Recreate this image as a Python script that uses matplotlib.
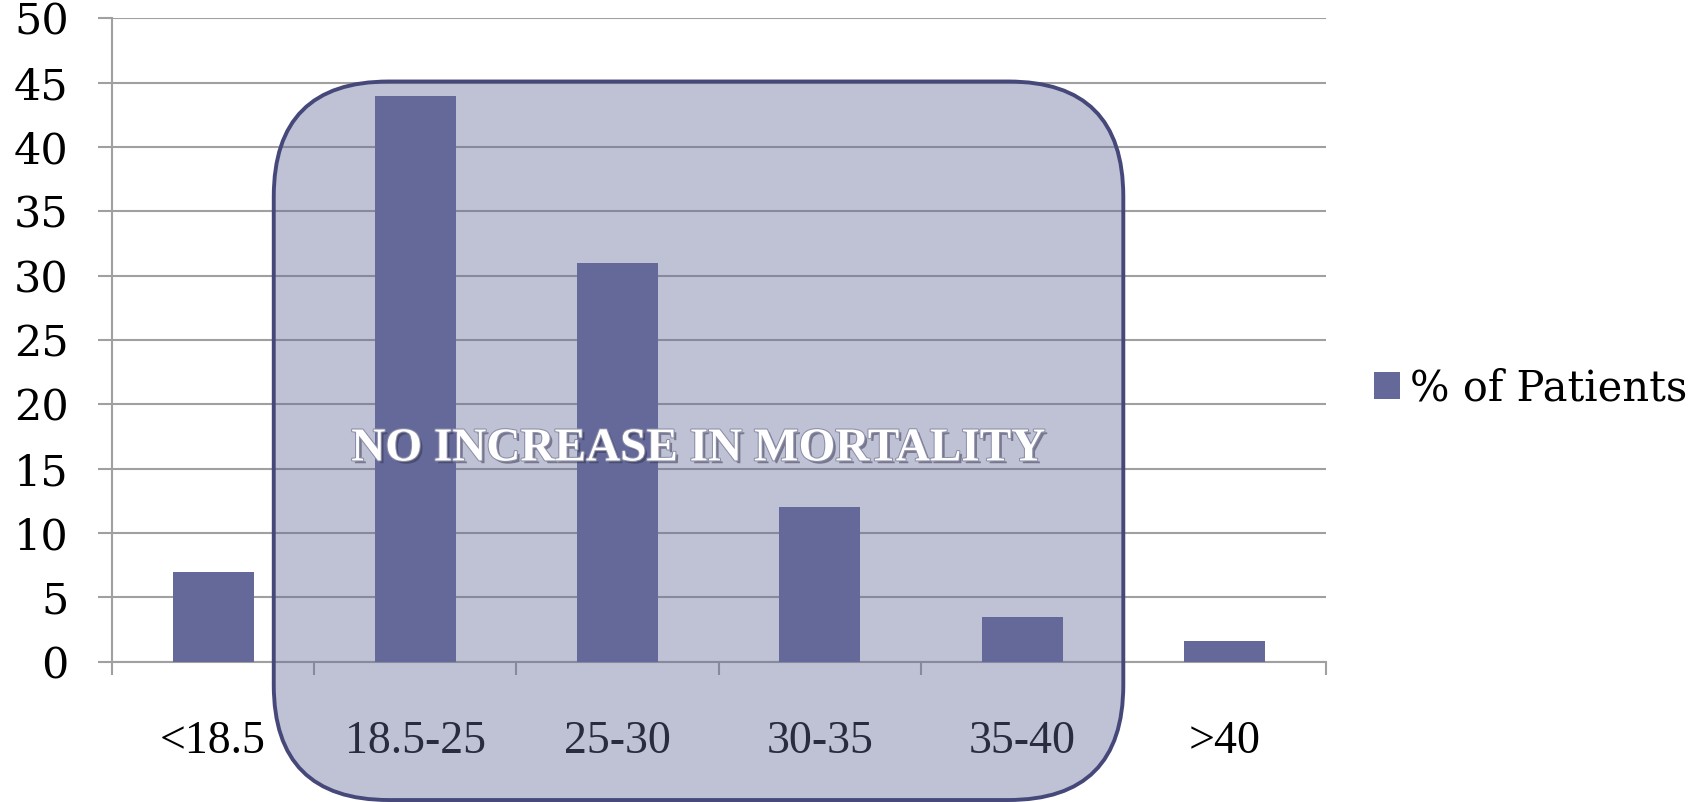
import matplotlib
matplotlib.use('Agg')
import matplotlib.pyplot as plt
import matplotlib.patheffects as pe
from matplotlib.colors import to_rgba
from matplotlib.patches import FancyBboxPatch
from matplotlib.transforms import IdentityTransform

# BMI groups and share of patients in each
categories = ['<18.5', '18.5-25', '25-30', '30-35', '35-40', '>40']
pct_patients = [7, 44, 31, 12, 3.5, 1.6]
y_ticks = list(range(0, 55, 5))
series_name = '% of Patients'
banner_text = 'NO INCREASE IN MORTALITY'

# highlighted span of groups (in category units) and its vertical reach
highlight_x = (0.3, 4.5)
highlight_y = (-10.75, 45.1)

BAR_COLOR = '#65699A'
GRID_COLOR = '#A0A0A0'

fig = plt.figure(figsize=(17.01, 8.02), dpi=100)
ax = fig.add_axes([0.0658, 0.1749, 0.7135, 0.8021])

x = list(range(len(categories)))
ax.bar(x, pct_patients, width=0.4, color=BAR_COLOR, label=series_name, zorder=3)

ax.set_xlim(-0.5, len(categories) - 0.5)
ax.set_ylim(0, 50)
ax.set_yticks(y_ticks)
ax.set_yticklabels([str(v) for v in y_ticks], fontsize=31, family='DejaVu Serif')
ax.yaxis.grid(True, color=GRID_COLOR, lw=1.5)
ax.set_axisbelow(True)
ax.tick_params(axis='y', length=10, width=1.5, color=GRID_COLOR, pad=21)

# category labels centred, tick marks on the boundaries
ax.set_xticks(x)
ax.set_xticklabels(categories, fontsize=33, family='Liberation Serif')
ax.set_xticks([i - 0.5 for i in range(len(categories) + 1)], minor=True)
ax.tick_params(axis='x', which='major', length=0, pad=42)
ax.tick_params(axis='x', which='minor', length=9.5, width=1.5, color=GRID_COLOR)

for side in ['top', 'right']:
    ax.spines[side].set_visible(False)
for side in ['left', 'bottom']:
    ax.spines[side].set_color(GRID_COLOR)
    ax.spines[side].set_linewidth(1.5)

ax.legend(loc='center left', bbox_to_anchor=(1374 / 1701, 1 - 388 / 802),
          bbox_transform=fig.transFigure, frameon=False,
          prop={'family': 'DejaVu Serif', 'size': 30},
          handlelength=0.62, handleheight=0.62, handletextpad=0.25,
          borderpad=0, borderaxespad=0)

# translucent rounded box over the middle groups
(x0, y0), (x1, y1) = ax.transData.transform(
    [(highlight_x[0], highlight_y[0]), (highlight_x[1], highlight_y[1])])
box = FancyBboxPatch((x0, y0), x1 - x0, y1 - y0,
                     boxstyle='round,pad=0,rounding_size=115',
                     transform=IdentityTransform(),
                     fc=to_rgba(BAR_COLOR, 0.41), ec='#46487A', lw=2.8,
                     zorder=5)
fig.add_artist(box)

fig.text(sum(highlight_x) / 2, 16.5, banner_text, transform=ax.transData,
         ha='center', va='center', fontsize=34, fontweight='bold',
         family='Liberation Serif', color='white', zorder=6,
         path_effects=[pe.SimplePatchShadow(offset=(2, -2), shadow_rgbFace='#303048', alpha=0.5),
                       pe.Stroke(linewidth=1.5, foreground='#8c8ea8'),
                       pe.Normal()])

fig.savefig('out.png', dpi=100)
